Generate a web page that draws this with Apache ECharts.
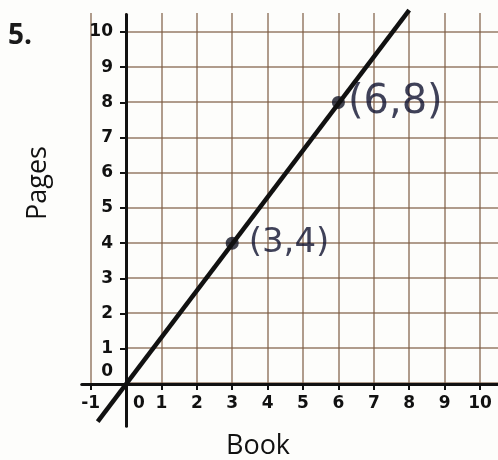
<!DOCTYPE html>
<html>
<head>
<meta charset="utf-8">
<script src="https://cdn.jsdelivr.net/npm/echarts@6/dist/echarts.min.js"></script>
<style>
  html, body { margin: 0; padding: 0; background: #fdfdfb; }
  #chart { width: 498px; height: 460px; }
</style>
</head>
<body>
<div id="chart"></div>
<script>
// tick labels
const xTicks = [-1, 0, 1, 2, 3, 4, 5, 6, 7, 8, 9, 10];
const yTicks = [0, 1, 2, 3, 4, 5, 6, 7, 8, 9, 10];

// the drawn line (its two ends)
const lineX = [-0.8, 8.0];
const lineY = [-1.07, 10.62];

// marked points
const pointX = [3, 6];
const pointY = [4, 8];

const pointLabelSize = [34, 40];
const pointLabelGap = [10, 3];

const gridColor = 'rgba(125, 92, 68, 0.8)';
const tickFont = { fontFamily: 'DejaVu Sans', fontWeight: 'bold', fontSize: 17, color: '#111' };

const chart = echarts.init(document.getElementById('chart'));

const hidden = { axisLine: {show: false}, axisTick: {show: false}, axisLabel: {show: false}, splitLine: {show: false} };

const option = {
  backgroundColor: '#fdfdfb',
  animation: false,
  grid: [
    // vertical grid lines, x = -1..10
    {left: 90.6, top: 13, width: 389.4, height: 370, outerBoundsMode: 'none'},
    // horizontal grid lines, y = 0..10
    {left: 126, top: 32, width: 372, height: 351, outerBoundsMode: 'none'},
    // axes and data
    {left: 81.75, top: 14.45, width: 415.95, height: 411.7, outerBoundsMode: 'none'}
  ],
  xAxis: [
    Object.assign({}, hidden, {
      type: 'value', gridIndex: 0, min: -1, max: 10, interval: 1,
      splitLine: {show: true, lineStyle: {color: gridColor, width: 1.5}}
    }),
    Object.assign({}, hidden, {type: 'value', gridIndex: 1, min: 0, max: 10, interval: 1}),
    {
      type: 'value', gridIndex: 2, min: -1.25, max: 10.5,
      // axis line sits at y = 0, 1.2 units above the bottom of this grid
      offset: -42.2,
      axisLine: {show: true, onZero: false, lineStyle: {color: '#111', width: 3}},
      axisTick: {show: true, customValues: xTicks, length: 6, lineStyle: {color: '#111', width: 2}},
      axisLabel: Object.assign({
        customValues: xTicks, margin: 11,
        formatter: v => v === 0 ? '{z|0}' : String(v),
        rich: {z: Object.assign({padding: [0, 0, 0, 26]}, tickFont)}
      }, tickFont),
      splitLine: {show: false}
    }
  ],
  yAxis: [
    Object.assign({}, hidden, {type: 'value', gridIndex: 0, min: 0, max: 10.55}),
    Object.assign({}, hidden, {
      type: 'value', gridIndex: 1, min: 0, max: 10, interval: 1,
      splitLine: {show: true, lineStyle: {color: gridColor, width: 1.5}}
    }),
    {
      type: 'value', gridIndex: 2, min: -1.2, max: 10.5,
      // axis line sits at x = 0, 1.25 units right of the grid's left edge
      offset: -44.25,
      axisLine: {show: true, onZero: false, lineStyle: {color: '#111', width: 3}},
      axisTick: {show: true, customValues: yTicks, length: 6, lineStyle: {color: '#111', width: 2}},
      axisLabel: Object.assign({
        customValues: yTicks, margin: 13,
        formatter: v => v === 0 ? '{z|0}' : String(v),
        rich: {z: Object.assign({padding: [0, 0, 24, 0]}, tickFont)}
      }, tickFont),
      splitLine: {show: false}
    }
  ],
  series: [
    {
      type: 'line', xAxisIndex: 2, yAxisIndex: 2,
      data: lineX.map((x, i) => [x, lineY[i]]),
      symbol: 'none', clip: false,
      lineStyle: {color: '#111', width: 4.5}
    },
    {
      type: 'scatter', xAxisIndex: 2, yAxisIndex: 2,
      symbolSize: 13,
      itemStyle: {color: '#121424'},
      data: pointX.map((x, i) => ({
        value: [x, pointY[i]],
        label: {fontSize: pointLabelSize[i], distance: pointLabelGap[i]}
      })),
      label: {
        show: true, position: 'right',
        fontFamily: 'DejaVu Sans', color: '#0f1130',
        formatter: p => '(' + p.value[0] + ',' + p.value[1] + ')'
      }
    }
  ],
  graphic: [
    {type: 'text', left: 8, top: 22, style: {text: '5.', font: 'bold 28px "Open Sans"', fill: '#1a1a1a'}},
    {type: 'text', x: 38, y: 183, rotation: Math.PI / 2,
      style: {text: 'Pages', font: '27px "Open Sans"', fill: '#111', align: 'center', verticalAlign: 'middle'}},
    {type: 'text', x: 258, y: 446,
      style: {text: 'Book', font: '27px "Open Sans"', fill: '#111', align: 'center', verticalAlign: 'middle'}}
  ]
};

chart.setOption(option);
</script>
</body>
</html>
